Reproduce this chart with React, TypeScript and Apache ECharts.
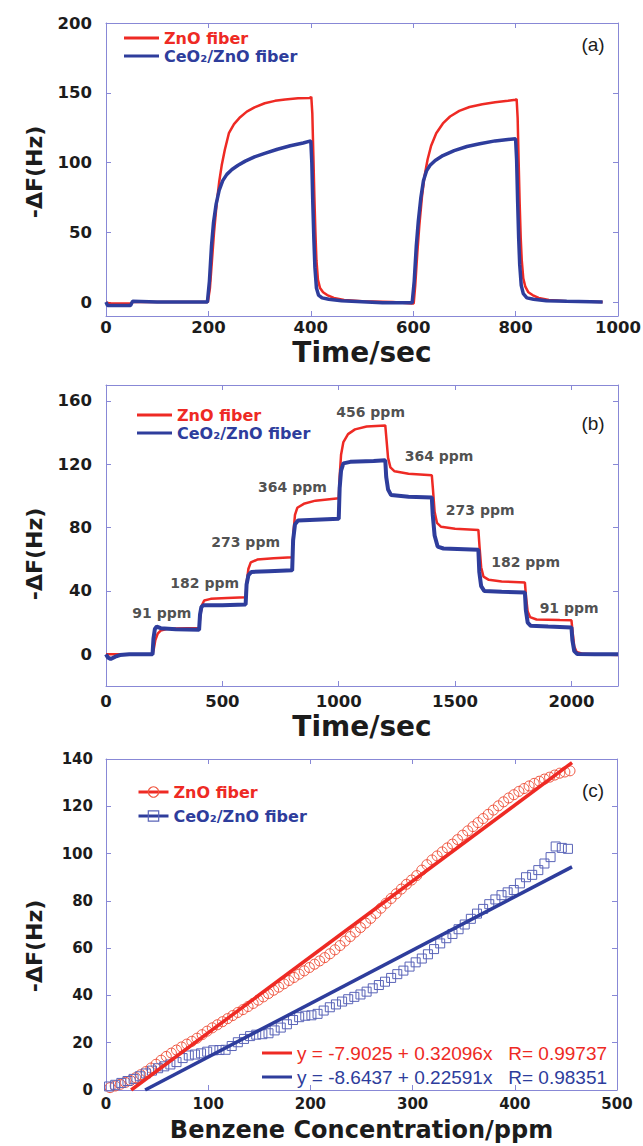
import React, { useEffect, useRef } from "react";
import * as echarts from "echarts";

const RED = "#ee2a24";
const BLUE = "#2e3d9c";
const MARK_RED = "#f0553f";
const MARK_BLUE = "#5a64b8";
const FRAME = "#8888d6";
const INK = "#1c1c1c";
const BOLD_FONT = "DejaVu Sans";
const PLAIN_FONT = "Liberation Sans";

const NAME_ZNO = "ZnO fiber";
const NAME_CEO = "CeO\u2082/ZnO fiber";

// (a) two exposure / recovery cycles, [time s, -ΔF Hz]
const znoCycles: number[][] = [
  [0, -0.5], [10, -1], [48, -1], [52, 0], [100, 0], [150, 0], [199, 0], [203, 10], [207, 30],
  [211, 50], [216, 70], [221, 86], [226, 98], [232, 109], [240, 121], [250, 127.5], [262, 132.5],
  [275, 136.5], [290, 139.5], [310, 142.5], [330, 144.2], [350, 145.2], [375, 146], [398, 146.3],
  [401, 147], [403, 135], [405, 105], [407, 75], [409, 50], [411, 30], [414, 16], [418, 10],
  [424, 7], [432, 5], [445, 3], [465, 1.5], [500, 0.5], [560, 0], [598, -1], [601, -1], [604, 12],
  [608, 35], [612, 55], [617, 75], [622, 90], [628, 102], [635, 112], [645, 121], [658, 128],
  [672, 133], [690, 137], [710, 139.8], [735, 141.8], [760, 143.2], [785, 144.3], [800, 145],
  [802, 145.5], [804, 132], [806, 100], [808, 70], [810, 46], [812, 30], [815, 17], [819, 11],
  [825, 7], [833, 5], [845, 3], [865, 1.5], [900, 0.5], [970, 0],
];
const ceoCycles: number[][] = [
  [0, 0], [3, -2.5], [48, -2.5], [52, 0.5], [100, 0], [150, 0], [198, 0], [202, 15], [206, 40],
  [210, 57], [215, 70], [221, 80], [228, 87], [236, 91.5], [246, 95], [258, 98], [272, 101],
  [290, 104], [310, 106.5], [335, 109.5], [360, 112], [385, 114], [400, 115.5], [402, 100],
  [404, 70], [406, 45], [408, 25], [411, 10], [415, 5], [422, 3], [435, 2], [460, 1], [500, 0.3],
  [540, -0.5], [598, -0.5], [602, 15], [606, 40], [610, 58], [615, 75], [620, 87], [626, 94],
  [633, 98], [643, 101.5], [658, 105], [680, 108.5], [705, 111.5], [730, 113.5], [760, 115.5],
  [785, 116.5], [800, 117], [802, 102], [804, 72], [806, 46], [808, 27], [811, 12], [815, 6],
  [822, 3], [835, 2], [860, 1], [900, 0.5], [970, 0],
];

// (b) stepwise concentration up and down, [time s, -ΔF Hz]
const znoSteps: number[][] = [
  [0, 0], [200, 0], [205, 3], [212, 9], [222, 13], [235, 15], [260, 16], [300, 16.3], [400, 16.6],
  [405, 24], [412, 31], [422, 34], [450, 35], [520, 35.6], [600, 36], [605, 46], [612, 54],
  [622, 58], [650, 59.8], [720, 60.6], [800, 61.2], [805, 76], [812, 88], [822, 92.5], [850, 95],
  [900, 97], [1000, 98.5], [1004, 112], [1010, 126], [1020, 134], [1040, 139], [1070, 142],
  [1120, 143.8], [1200, 144.5], [1205, 136], [1212, 124], [1222, 118], [1240, 115.5], [1300, 114],
  [1400, 113], [1405, 104], [1412, 90], [1422, 83], [1440, 80.5], [1500, 79.3], [1600, 78.5],
  [1605, 68], [1612, 55], [1622, 49], [1645, 47], [1700, 46], [1800, 45.3], [1805, 36], [1812, 27],
  [1822, 23.5], [1850, 22], [1950, 21.6], [2000, 21.5], [2005, 14], [2012, 5], [2022, 1.5],
  [2050, 0.3], [2100, 0], [2200, -0.5],
];
const ceoSteps: number[][] = [
  [0, 0], [8, -2], [20, -3], [40, -1.5], [60, -0.5], [100, 0], [200, 0], [204, 10], [210, 16],
  [218, 17.5], [235, 16.5], [300, 15.8], [400, 15.5], [404, 25], [410, 30], [420, 31], [500, 31],
  [600, 31.5], [604, 44], [612, 50], [625, 52], [700, 52.5], [800, 53], [804, 72], [812, 82],
  [825, 84.5], [900, 85], [1000, 85.5], [1004, 105], [1010, 116], [1020, 120.5], [1050, 121.5],
  [1150, 122], [1200, 122.5], [1204, 112], [1212, 104], [1225, 100.5], [1300, 99.5], [1400, 99],
  [1404, 88], [1412, 75], [1425, 68], [1450, 66.8], [1600, 66], [1604, 52], [1612, 43], [1625, 40],
  [1700, 39.5], [1800, 39], [1804, 28], [1812, 20], [1825, 18], [1900, 17.5], [2000, 17],
  [2004, 9], [2012, 2], [2025, 0.2], [2100, 0], [2200, 0],
];
const stepLabels = ["91 ppm", "182 ppm", "273 ppm", "364 ppm", "456 ppm", "364 ppm", "273 ppm", "182 ppm", "91 ppm"];
const stepLabelAt: number[][] = [
  [240, 25.8], [424, 44.8], [600, 70.6], [801, 105.8], [1137, 153], [1431, 125], [1608, 91.3], [1803, 58.2], [1990, 29.4],
];

// (c) response vs benzene concentration
const concZnO = [
  4, 9, 14, 19, 24, 29, 34, 39, 44, 49, 54, 59, 64, 69, 74, 79, 84, 89, 94, 99, 104, 109, 114, 119,
  124, 129, 134, 139, 144, 149, 154, 159, 164, 169, 174, 179, 184, 189, 194, 199, 204, 209, 214,
  219, 224, 229, 234, 239, 244, 249, 254, 259, 264, 269, 274, 279, 284, 289, 294, 299, 304, 309,
  314, 319, 324, 329, 334, 339, 344, 349, 354, 359, 364, 369, 374, 379, 384, 389, 394, 399, 404,
  409, 414, 419, 424, 429, 434, 439, 444, 449, 454,
];
const respZnO = [
  1.0, 1.7, 2.4, 3.2, 4.0, 5.2, 6.5, 7.8, 9.3, 10.9, 12.6, 14.2, 15.6, 16.9, 18.2, 19.4, 20.6, 21.9,
  23.4, 24.9, 26.3, 27.6, 28.9, 30.2, 31.5, 32.8, 34.0, 35.3, 36.6, 38.0, 39.4, 40.8, 42.2, 43.5,
  44.9, 46.3, 47.6, 49.0, 50.4, 51.8, 53.2, 54.6, 56.0, 57.6, 59.3, 61.1, 63.0, 64.9, 66.8, 68.7,
  70.6, 72.6, 74.7, 76.9, 79.0, 81.0, 83.0, 85.0, 87.0, 88.8, 90.7, 93.0, 95.3, 97.3, 99.0, 100.7,
  102.4, 104.0, 105.9, 107.8, 109.6, 111.4, 113.1, 114.8, 116.6, 118.4, 120.2, 121.9, 123.5, 124.9,
  126.3, 127.5, 128.6, 129.7, 130.6, 131.5, 132.3, 133.2, 134.0, 134.5, 135.0,
];
const concCeO = [
  3, 9, 15, 21, 27, 33, 39, 45, 51, 57, 63, 69, 75, 81, 87, 93, 99, 105, 111, 117, 123, 129, 135,
  141, 147, 153, 159, 165, 171, 177, 183, 189, 195, 201, 207, 213, 219, 225, 231, 237, 243, 249,
  255, 261, 267, 273, 279, 285, 291, 297, 303, 309, 315, 321, 327, 333, 339, 345, 351, 357, 363,
  369, 375, 381, 387, 393, 399, 405, 411, 417, 423, 429, 435, 440, 446, 452,
];
const respCeO = [
  1.5, 2.2, 3.0, 3.8, 4.7, 5.8, 7.0, 8.2, 9.2, 10.0, 10.8, 11.8, 13.5, 14.6, 15.0, 15.5, 16.2, 16.8,
  16.9, 17.0, 18.6, 20.2, 21.6, 22.8, 23.4, 23.6, 24.0, 25.2, 26.4, 27.8, 29.6, 30.8, 31.4, 31.6,
  32.2, 33.6, 35.0, 36.2, 37.4, 38.4, 39.4, 40.4, 41.6, 43.0, 44.4, 45.8, 47.4, 49.0, 50.5, 52.2,
  54.0, 55.6, 57.4, 59.6, 62.0, 64.2, 66.0, 68.0, 70.0, 72.4, 74.6, 76.6, 78.6, 80.6, 82.4, 83.6,
  84.6, 87.4, 90.0, 91.0, 93.0, 95.8, 98.5, 103.0, 102.4, 102.0,
];
// linear fits: y = intercept + slope * x
const fitZnO = { intercept: -7.9025, slope: 0.32096, r: 0.99737 };
const fitCeO = { intercept: -8.6437, slope: 0.22591, r: 0.98351 };
const fitUpTo = 456;

const eqText = (f: { intercept: number; slope: number; r: number }) =>
  `y = ${f.intercept} + ${f.slope}x   R= ${f.r}`;
const fitLine = (f: { intercept: number; slope: number }) => {
  const x0 = -f.intercept / f.slope;
  return [
    [x0, f.intercept + f.slope * x0],
    [fitUpTo, f.intercept + f.slope * fitUpTo],
  ];
};
const zip = (xs: number[], ys: number[]) => xs.map((x, i) => [x, ys[i]]);
const plainNumber = (v: number) => String(v);

type AxisSpec = {
  grid: number;
  min: number;
  max: number;
  step: number;
  labelSize: number;
  labelMargin: number;
};

function xPair(s: AxisSpec, name: string, nameGap: number, nameSize: number) {
  const common: any = {
    type: "value",
    gridIndex: s.grid,
    min: s.min,
    max: s.max,
    interval: s.step,
    splitLine: { show: false },
    axisLine: { show: true, onZero: false, lineStyle: { color: FRAME, width: 1 } },
    axisTick: { show: true, inside: true, length: 5, lineStyle: { color: FRAME, width: 1 } },
  };
  return [
    {
      ...common,
      position: "bottom",
      axisLabel: {
        show: true,
        margin: s.labelMargin,
        color: INK,
        fontFamily: BOLD_FONT,
        fontWeight: "bold",
        fontSize: s.labelSize,
        formatter: plainNumber,
        showMaxLabel: s.max % s.step === 0,
      },
      name,
      nameLocation: "middle",
      nameGap,
      nameTextStyle: { color: INK, fontFamily: BOLD_FONT, fontWeight: "bold", fontSize: nameSize },
    },
    { ...common, position: "top", axisLabel: { show: false } },
  ];
}

function yPair(s: AxisSpec) {
  const common: any = {
    type: "value",
    gridIndex: s.grid,
    min: s.min,
    max: s.max,
    minInterval: s.step,
    maxInterval: s.step,
    splitLine: { show: false },
    axisLine: { show: true, onZero: false, lineStyle: { color: FRAME, width: 1 } },
    axisTick: { show: true, inside: true, length: 5, lineStyle: { color: FRAME, width: 1 } },
  };
  return [
    {
      ...common,
      position: "left",
      axisLabel: {
        show: true,
        margin: s.labelMargin,
        color: INK,
        fontFamily: BOLD_FONT,
        fontWeight: "bold",
        fontSize: s.labelSize,
        formatter: plainNumber,
        showMinLabel: s.min % s.step === 0,
        showMaxLabel: s.max % s.step === 0,
      },
    },
    { ...common, position: "right", axisLabel: { show: false } },
  ];
}

function buildOption(): any {
  const legendText = { fontFamily: BOLD_FONT, fontWeight: "bold", fontSize: 16, lineHeight: 18 };
  const lineLegend = (left: number, top: number) => ({
    orient: "vertical",
    left,
    top,
    padding: 0,
    itemGap: 0,
    itemWidth: 35,
    itemHeight: 3,
    selectedMode: false,
    textStyle: legendText,
    itemStyle: { borderWidth: 0 },
    data: [
      { name: NAME_ZNO, icon: "rect", itemStyle: { color: RED, borderWidth: 0 }, textStyle: { color: RED } },
      { name: NAME_CEO, icon: "rect", itemStyle: { color: BLUE, borderWidth: 0 }, textStyle: { color: BLUE } },
    ],
  });

  const panelTag = (text: string, y: number) => ({
    type: "text",
    x: 593,
    y,
    style: { text, fill: INK, font: `19px "${PLAIN_FONT}"`, align: "center", verticalAlign: "middle" },
  });
  const yTitle = (y: number) => ({
    type: "text",
    x: 34,
    y,
    rotation: Math.PI / 2,
    style: {
      text: "-\u0394F(Hz)",
      fill: INK,
      font: `bold 22px "${BOLD_FONT}"`,
      align: "center",
      verticalAlign: "middle",
    },
  });

  const eqZnO = eqText(fitZnO);
  const eqCeO = eqText(fitCeO);

  return {
    animation: false,
    backgroundColor: "#ffffff",
    grid: [
      { left: 106, top: 23, width: 512, height: 293, containLabel: false, outerBoundsMode: "none" },
      { left: 106, top: 385, width: 512, height: 301, containLabel: false, outerBoundsMode: "none" },
      { left: 106, top: 759, width: 511, height: 331, containLabel: false, outerBoundsMode: "none" },
    ],
    xAxis: [
      ...xPair({ grid: 0, min: 0, max: 1000, step: 200, labelSize: 16.5, labelMargin: 3 }, "Time/sec", 22, 28),
      ...xPair({ grid: 1, min: 0, max: 2200, step: 500, labelSize: 16.5, labelMargin: 7 }, "Time/sec", 26, 28),
      ...xPair({ grid: 2, min: 0, max: 500, step: 100, labelSize: 15, labelMargin: 6 }, "Benzene Concentration/ppm", 28, 24),
    ],
    yAxis: [
      ...yPair({ grid: 0, min: -10, max: 200, step: 50, labelSize: 16.5, labelMargin: 14 }),
      ...yPair({ grid: 1, min: -20, max: 170, step: 40, labelSize: 16.5, labelMargin: 14 }),
      ...yPair({ grid: 2, min: 0, max: 140, step: 20, labelSize: 15, labelMargin: 13 }),
    ],
    legend: [
      lineLegend(124, 29),
      lineLegend(137, 406),
      {
        orient: "vertical",
        left: 137,
        top: 783,
        padding: 0,
        itemGap: 6,
        itemWidth: 30,
        itemHeight: 13,
        selectedMode: false,
        textStyle: legendText,
        lineStyle: { width: 3, opacity: 1 },
        itemStyle: { borderWidth: 1.2, opacity: 1 },
        data: [
          { name: NAME_ZNO, textStyle: { color: RED } },
          { name: NAME_CEO, textStyle: { color: BLUE } },
        ],
      },
      {
        orient: "vertical",
        left: 262,
        top: 1042,
        padding: 0,
        itemGap: 2,
        itemWidth: 30,
        itemHeight: 3,
        selectedMode: false,
        textStyle: { fontFamily: PLAIN_FONT, fontSize: 19, lineHeight: 22 },
        data: [
          { name: eqZnO, icon: "rect", itemStyle: { color: RED, borderWidth: 0 }, textStyle: { color: RED } },
          { name: eqCeO, icon: "rect", itemStyle: { color: BLUE, borderWidth: 0 }, textStyle: { color: BLUE } },
        ],
      },
    ],
    graphic: [
      yTitle(172),
      yTitle(554),
      yTitle(946),
      panelTag("(a)", 44),
      panelTag("(b)", 423),
      panelTag("(c)", 790),
    ],
    series: [
      // (c) measured points (listed first so the panel legend picks up their markers)
      {
        type: "line",
        name: NAME_ZNO,
        xAxisIndex: 4,
        yAxisIndex: 4,
        data: zip(concZnO, respZnO),
        symbol: "circle",
        symbolSize: 10,
        showSymbol: true,
        lineStyle: { color: RED, width: 1, opacity: 0 },
        itemStyle: { color: "rgba(0,0,0,0)", borderColor: MARK_RED, borderWidth: 1 },
        silent: true,
        z: 2,
      },
      {
        type: "line",
        name: NAME_CEO,
        xAxisIndex: 4,
        yAxisIndex: 4,
        data: zip(concCeO, respCeO),
        symbol: "rect",
        symbolSize: 9,
        showSymbol: true,
        lineStyle: { color: BLUE, width: 1, opacity: 0 },
        itemStyle: { color: "rgba(0,0,0,0)", borderColor: MARK_BLUE, borderWidth: 1 },
        silent: true,
        z: 2,
      },
      // (c) linear fits
      {
        type: "line",
        name: eqZnO,
        xAxisIndex: 4,
        yAxisIndex: 4,
        data: fitLine(fitZnO),
        showSymbol: false,
        symbol: "none",
        lineStyle: { color: RED, width: 3.5 },
        itemStyle: { color: RED },
        silent: true,
        z: 3,
      },
      {
        type: "line",
        name: eqCeO,
        xAxisIndex: 4,
        yAxisIndex: 4,
        data: fitLine(fitCeO),
        showSymbol: false,
        symbol: "none",
        lineStyle: { color: BLUE, width: 3.5 },
        itemStyle: { color: BLUE },
        silent: true,
        z: 3,
      },
      // (a)
      {
        type: "line",
        name: NAME_ZNO,
        xAxisIndex: 0,
        yAxisIndex: 0,
        data: znoCycles,
        showSymbol: false,
        symbol: "none",
        lineStyle: { color: RED, width: 2.5 },
        itemStyle: { color: RED },
        silent: true,
        z: 2,
      },
      {
        type: "line",
        name: NAME_CEO,
        xAxisIndex: 0,
        yAxisIndex: 0,
        data: ceoCycles,
        showSymbol: false,
        symbol: "none",
        lineStyle: { color: BLUE, width: 3.5 },
        itemStyle: { color: BLUE },
        silent: true,
        z: 3,
      },
      // (b)
      {
        type: "line",
        name: NAME_ZNO,
        xAxisIndex: 2,
        yAxisIndex: 2,
        data: znoSteps,
        showSymbol: false,
        symbol: "none",
        lineStyle: { color: RED, width: 2.5 },
        itemStyle: { color: RED },
        silent: true,
        z: 2,
      },
      {
        type: "line",
        name: NAME_CEO,
        xAxisIndex: 2,
        yAxisIndex: 2,
        data: ceoSteps,
        showSymbol: false,
        symbol: "none",
        lineStyle: { color: BLUE, width: 4 },
        itemStyle: { color: BLUE },
        silent: true,
        z: 3,
      },
      {
        type: "scatter",
        name: "concentration",
        xAxisIndex: 2,
        yAxisIndex: 2,
        data: stepLabels.map((text, i) => ({ name: text, value: stepLabelAt[i] })),
        symbolSize: 0,
        silent: true,
        label: {
          show: true,
          position: "inside",
          formatter: "{b}",
          color: "#222",
          fontFamily: BOLD_FONT,
          fontWeight: "bold",
          fontSize: 14,
        },
        z: 5,
      },
    ],
  };
}

export default function App() {
  const ref = useRef<HTMLDivElement>(null);
  useEffect(() => {
    document.body.style.margin = "0";
    const chart = echarts.init(ref.current as HTMLDivElement, null, { renderer: "svg" });
    chart.setOption(buildOption());
    return () => chart.dispose();
  }, []);
  return <div ref={ref} style={{ width: 643, height: 1146, background: "#fff" }} />;
}
